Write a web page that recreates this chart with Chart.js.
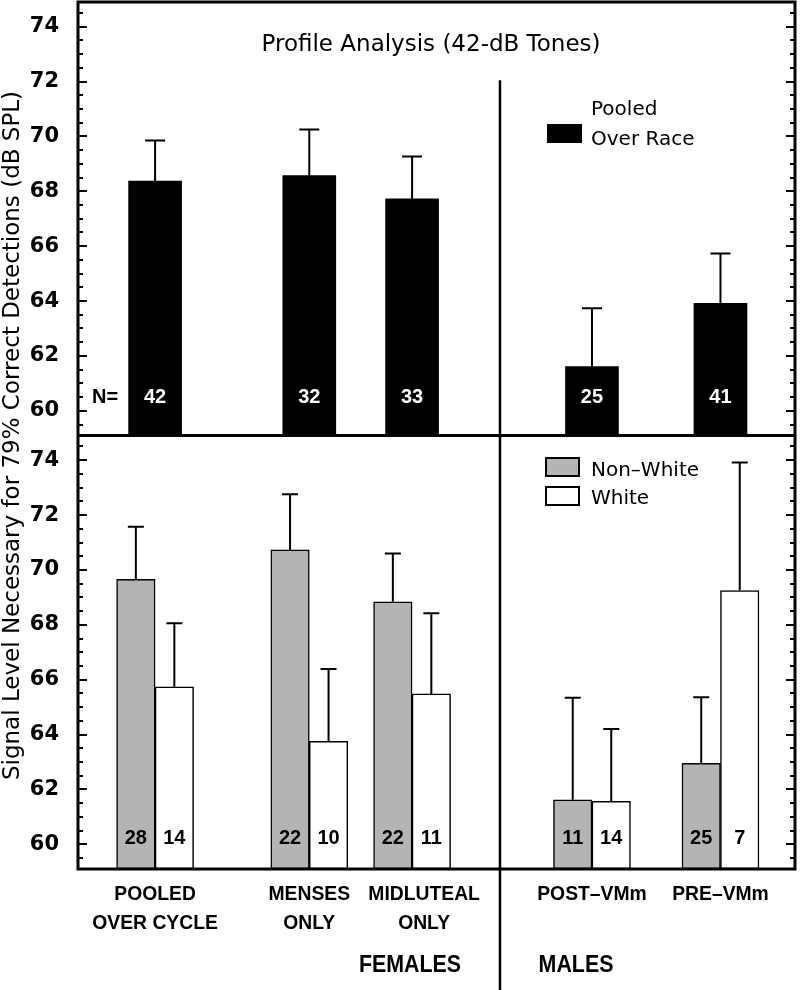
<!DOCTYPE html>
<html>
<head>
<meta charset="utf-8">
<script src="https://cdn.jsdelivr.net/npm/chart.js@4.4.1/dist/chart.umd.min.js"></script>
<style>
  body { margin: 0; background: #fff; }
</style>
</head>
<body>
<canvas id="profileChart" width="800" height="990"></canvas>
<script>
// groups along the x axis (positions in x units, the gaps are uneven in the original)
const groupLabels = [['POOLED', 'OVER CYCLE'], ['MENSES', 'ONLY'], ['MIDLUTEAL', 'ONLY'], ['POST–VMm'], ['PRE–VMm']];
const groupPos = [1.5, 4.5, 6.5, 10, 12.5];
const dividerPos = 8.21;
const yTickValues = [60, 62, 64, 66, 68, 70, 72, 74];

// top panel: pooled over race
const pooledMean = [68.37, 68.57, 67.73, 61.61, 63.92];
const pooledErr = [69.85, 70.25, 69.27, 63.74, 65.73];
const pooledN = [42, 32, 33, 25, 41];

// bottom panel: by race
const nonWhiteMean = [69.66, 70.73, 68.84, 61.62, 62.95];
const nonWhiteErr = [71.57, 72.76, 70.60, 65.34, 65.36];
const nonWhiteN = [28, 22, 22, 11, 25];
const whiteMean = [65.74, 63.75, 65.48, 61.57, 69.25];
const whiteErr = [68.06, 66.39, 68.42, 64.20, 73.92];
const whiteN = [14, 10, 11, 14, 7];

const Y_MIN = 59.1, Y_MAX = 74.9;
const GRAY = '#b4b4b4';

const toPoints = arr => arr.map((v, i) => ({ x: groupPos[i], y: v }));

// drop the extra room chart.js keeps for edge tick labels
function noLabelPadding(s) {
    s.paddingTop = 0;
    s.paddingBottom = 0;
    s.paddingLeft = 0;
    s.paddingRight = 0;
}

function yAxis(weight) {
    return {
        type: 'linear',
        position: 'left',
        stack: 'panels',
        stackWeight: 1,
        weight: weight,
        min: Y_MIN,
        max: Y_MAX,
        afterBuildTicks: s => { s.ticks = yTickValues.map(v => ({ value: v })); },
        afterFit: s => { s.width = 78; noLabelPadding(s); },
        grid: { display: false },
        border: { display: false },
        ticks: {
            color: '#000',
            padding: 11,
            font: { family: 'DejaVu Sans', weight: 'bold', size: 21 }
        }
    };
}

// condensed label text, like the narrow face of the original
function narrowText(ctx, text, x, y, squeeze) {
    ctx.save();
    ctx.translate(x, y);
    ctx.scale(squeeze, 1);
    ctx.fillText(text, 0, 0);
    ctx.restore();
}

// small inward tick marks every 0.5 dB on both frame sides
function drawSideTicks(ctx, area, scale) {
    ctx.fillStyle = '#000';
    for (let k = 119; k <= 149; k++) {
        const py = Math.round(scale.getPixelForValue(k / 2));
        const len = (k % 4 === 0) ? 9 : 5;
        ctx.fillRect(area.left, py - 1, len, 2);
        ctx.fillRect(area.right - len, py - 1, len, 2);
    }
}

// error bars, N labels, frame, ticks and the loose text
const decorPlugin = {
    id: 'panelDecor',
    afterDatasetsDraw(chart) {
        const ctx = chart.ctx;
        ctx.save();
        chart.data.datasets.forEach((ds, di) => {
            const meta = chart.getDatasetMeta(di);
            const yScale = chart.scales[ds.yAxisID];
            meta.data.forEach((bar, i) => {
                const yErr = yScale.getPixelForValue(ds.errTop[i]);
                ctx.strokeStyle = '#000';
                ctx.lineWidth = 2;
                ctx.beginPath();
                ctx.moveTo(bar.x, bar.y);
                ctx.lineTo(bar.x, yErr);
                ctx.moveTo(bar.x - ds.capHalf, yErr);
                ctx.lineTo(bar.x + ds.capHalf, yErr);
                ctx.stroke();

                ctx.fillStyle = ds.countColor;
                ctx.font = 'bold 20px "Liberation Sans", Arial, sans-serif';
                ctx.textAlign = 'center';
                ctx.textBaseline = 'middle';
                ctx.fillText(String(ds.counts[i]), bar.x, yScale.getPixelForValue(ds.countAt));
            });
        });
        ctx.restore();
    },
    afterDraw(chart) {
        const ctx = chart.ctx;
        const area = chart.chartArea;
        const yTop = chart.scales.yTop;
        const yBot = chart.scales.yBot;
        const x = chart.scales.x;
        ctx.save();
        ctx.strokeStyle = '#000';

        drawSideTicks(ctx, area, yTop);
        drawSideTicks(ctx, area, yBot);

        // frame and panel split
        ctx.lineWidth = 3;
        ctx.strokeRect(area.left, area.top, area.right - area.left, area.bottom - area.top);
        ctx.beginPath();
        ctx.moveTo(area.left, yTop.bottom);
        ctx.lineTo(area.right, yTop.bottom);
        ctx.stroke();

        // females / males divider
        const xd = x.getPixelForValue(dividerPos);
        ctx.lineWidth = 2.5;
        ctx.beginPath();
        ctx.moveTo(xd, yTop.getPixelForValue(72.05));
        ctx.lineTo(xd, chart.height);
        ctx.stroke();

        ctx.fillStyle = '#000';
        // title
        ctx.font = '23px "DejaVu Sans", sans-serif';
        ctx.textAlign = 'center';
        ctx.textBaseline = 'alphabetic';
        ctx.fillText('Profile Analysis (42-dB Tones)', 431, 51);

        // N=
        ctx.font = 'bold 20px "Liberation Sans", Arial, sans-serif';
        ctx.textBaseline = 'middle';
        ctx.fillText('N=', 105, yTop.getPixelForValue(60.47));

        // y title spanning both panels
        ctx.save();
        ctx.translate(13, (area.top + area.bottom) / 2);
        ctx.rotate(-Math.PI / 2);
        ctx.font = '23px "DejaVu Sans", sans-serif';
        ctx.textAlign = 'center';
        ctx.textBaseline = 'middle';
        ctx.fillText('Signal Level Necessary for 79% Correct Detections (dB SPL)', 0, 0);
        ctx.restore();

        // group labels under the axis
        ctx.textAlign = 'center';
        ctx.textBaseline = 'alphabetic';
        ctx.font = 'bold 21px "Liberation Sans", Arial, sans-serif';
        groupLabels.forEach((lines, i) => {
            const px = x.getPixelForValue(groupPos[i]) + (i === 2 ? 12 : 0);
            lines.forEach((t, j) => narrowText(ctx, t, px, area.bottom + 31 + j * 29, 0.92));
        });
        ctx.font = 'bold 23px "Liberation Sans", Arial, sans-serif';
        narrowText(ctx, 'FEMALES', 410, 972, 0.93);
        narrowText(ctx, 'MALES', 576, 972, 0.93);

        // legends
        ctx.textAlign = 'left';
        ctx.font = '20px "DejaVu Sans", sans-serif';
        ctx.fillRect(547, 124, 35, 19);
        ctx.fillText('Pooled', 591, 115);
        ctx.fillText('Over Race', 591, 145);

        ctx.lineWidth = 2;
        ctx.fillStyle = GRAY;
        ctx.fillRect(546, 458, 33, 18);
        ctx.strokeRect(546, 458, 33, 18);
        ctx.fillStyle = '#fff';
        ctx.fillRect(546, 487, 33, 18);
        ctx.strokeRect(546, 487, 33, 18);
        ctx.fillStyle = '#000';
        ctx.fillText('Non–White', 591, 476);
        ctx.fillText('White', 591, 504);
        ctx.restore();
    }
};

new Chart(document.getElementById('profileChart'), {
    type: 'bar',
    data: {
        datasets: [
            {
                label: 'Pooled Over Race', data: toPoints(pooledMean), yAxisID: 'yTop',
                backgroundColor: '#000', borderWidth: 0, barThickness: 53, grouped: false,
                errTop: pooledErr, counts: pooledN, countColor: '#fff', countAt: 60.47, capHalf: 10
            },
            {
                label: 'Non-White', data: toPoints(nonWhiteMean), yAxisID: 'yBot',
                backgroundColor: GRAY, borderColor: '#000', borderWidth: 1.5, borderSkipped: false, barThickness: 38.5,
                errTop: nonWhiteErr, counts: nonWhiteN, countColor: '#000', countAt: 60.2, capHalf: 8
            },
            {
                label: 'White', data: toPoints(whiteMean), yAxisID: 'yBot',
                backgroundColor: '#fff', borderColor: '#000', borderWidth: 1.5, borderSkipped: false, barThickness: 38.5,
                errTop: whiteErr, counts: whiteN, countColor: '#000', countAt: 60.2, capHalf: 8
            }
        ]
    },
    options: {
        responsive: false,
        animation: false,
        layout: { autoPadding: false, padding: { top: 2, right: 5, left: 0, bottom: 0 } },
        datasets: { bar: { base: Y_MIN } },
        scales: {
            x: {
                type: 'linear',
                min: 0,
                max: 13.95,
                offset: false,
                afterBuildTicks: s => { s.ticks = groupPos.map(v => ({ value: v })); },
                afterFit: s => { s.height = 121; noLabelPadding(s); },
                grid: { display: false },
                border: { display: false },
                ticks: { display: false }
            },
            yTop: yAxis(1),
            yBot: yAxis(0)
        },
        plugins: {
            legend: { display: false },
            tooltip: { enabled: false }
        }
    },
    plugins: [decorPlugin]
});
</script>
</body>
</html>
